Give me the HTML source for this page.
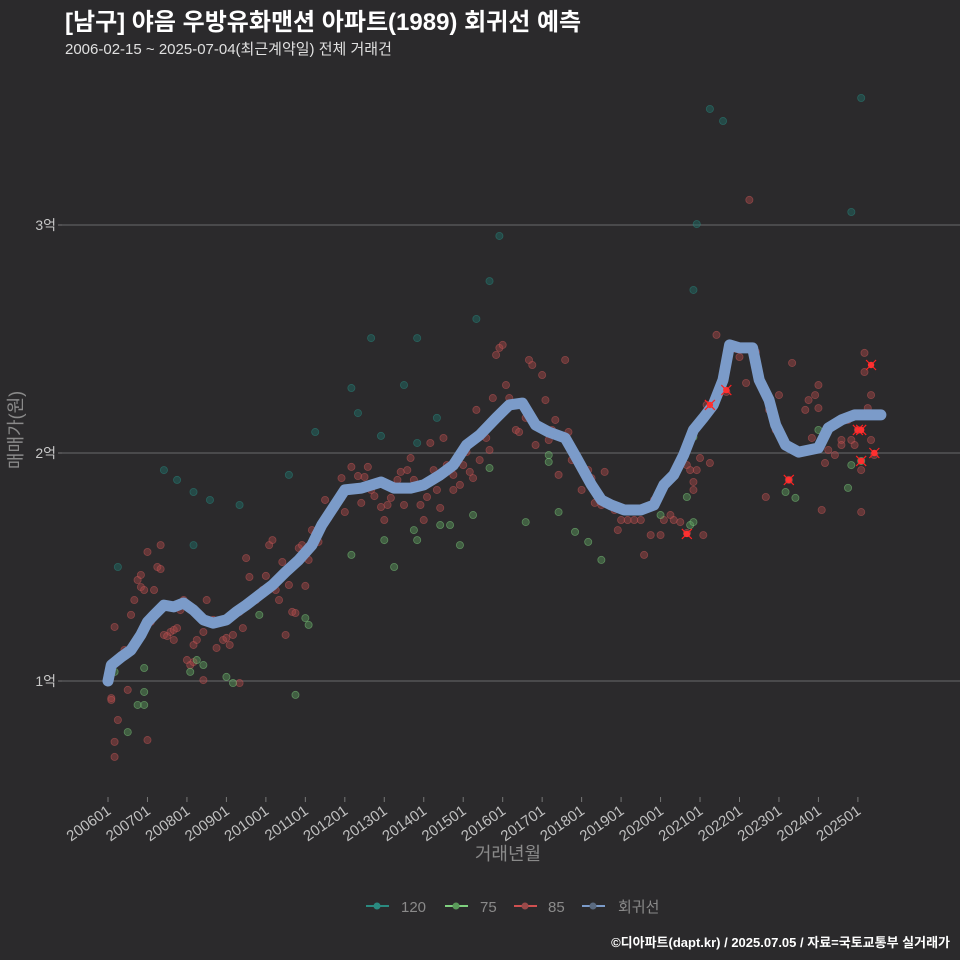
<!DOCTYPE html>
<html><head><meta charset="utf-8">
<style>
html,body{margin:0;padding:0;background:#2b2a2c;}
svg{display:block;font-family:"Liberation Sans","Noto Sans CJK KR",sans-serif;}
</style></head>
<body>
<svg id="chart" width="960" height="960" viewBox="0 0 960 960">
<rect width="960" height="960" fill="#2b2a2c"/>
<text x="65" y="30" font-size="24" font-weight="bold" fill="#ffffff">[남구] 야음 우방유화맨션 아파트(1989) 회귀선 예측</text>
<text x="65" y="54" font-size="15" fill="#e0e0e0">2006-02-15 ~ 2025-07-04(최근계약일) 전체 거래건</text>
<g id="grid"></g>
<g id="yticks"></g>
<g id="xticks"></g>
<g id="pts"></g>
<g id="reg"></g>
<g id="xm"></g>
<text transform="translate(22,430) rotate(-90)" text-anchor="middle" font-size="18" fill="#8a8a8a">매매가(원)</text>
<text x="508" y="860" text-anchor="middle" font-size="18" fill="#8a8a8a">거래년월</text>
<g font-size="15" fill="#8a8a8a">
  <g><line x1="366" y1="906" x2="389" y2="906" stroke="#2a8a80" stroke-width="2"/><circle cx="377" cy="906" r="3.5" fill="#2a8a80"/><text x="401" y="912">120</text></g>
  <g><line x1="445" y1="906" x2="468" y2="906" stroke="#7fd07f" stroke-width="2"/><circle cx="456" cy="906" r="3.5" fill="#5a9a5a"/><text x="480" y="912">75</text></g>
  <g><line x1="514" y1="906" x2="537" y2="906" stroke="#d05050" stroke-width="2"/><circle cx="525" cy="906" r="3.5" fill="#9a4a4a"/><text x="548" y="912">85</text></g>
  <g><line x1="582" y1="906" x2="605" y2="906" stroke="#7b9bc9" stroke-width="2"/><circle cx="593" cy="906" r="3.5" fill="#5a6a80"/><text x="618" y="912">회귀선</text></g>
</g>
<text x="950" y="947" text-anchor="end" font-size="13" font-weight="bold" fill="#ffffff">©디아파트(dapt.kr) / 2025.07.05 / 자료=국토교통부 실거래가</text>
</svg>
<script>
// months since 2006-01, price in 만원
const yTickValues = [10000, 20000, 30000];
const yTickLabels = ["1억", "2억", "3억"];
const xTickLabels = ["200601","200701","200801","200901","201001","201101","201201","201301","201401","201501","201601","201701","201801","201901","202001","202101","202201","202301","202401","202501"];
const pts120 = [[3,15000],[17,19250],[21,18820],[26,18290],[26,15960],[31,17940],[40,17720],[55,19040],[63,20920],[74,22850],[76,21750],[80,25040],[83,20750],[90,22980],[94,25040],[94,20440],[100,21540],[112,25880],[116,27540],[119,29520],[183,35090],[187,34560],[178,27150],[179,30040],[226,30570],[229,35570]];
const pts75 = [[2,10400],[11,10570],[11,9520],[11,8950],[9,8950],[6,7760],[25,10400],[27,10920],[29,10700],[36,10180],[38,9910],[46,12900],[60,12760],[61,12460],[57,9390],[74,15530],[84,16180],[87,15000],[93,16620],[94,16180],[101,16840],[104,16840],[107,15960],[111,17280],[116,19340],[127,16970],[134,19910],[134,19610],[137,17410],[142,16540],[146,16100],[150,15310],[168,17280],[176,18070],[177,16840],[178,16970],[178,20700],[206,18290],[209,18030],[216,21010],[225,18470],[226,19470],[229,19650]];
const pts85 = [[1,9250],[1,9170],[2,7330],[2,6670],[2,12370],[3,8290],[4,11140],[5,11360],[6,9610],[7,12900],[8,13550],[9,14430],[10,14650],[10,14120],[11,13990],[12,15660],[12,7410],[13,12590],[14,13990],[15,15000],[16,14910],[16,15960],[17,12020],[18,11970],[19,12150],[20,12240],[20,11800],[21,12320],[22,13110],[23,13550],[24,10920],[25,10700],[26,10830],[26,11580],[27,11800],[29,10040],[29,12150],[30,13550],[32,12680],[33,11450],[35,11800],[36,11890],[37,11580],[38,12020],[40,9910],[40,13030],[41,12320],[42,15390],[43,14560],[45,13550],[47,13990],[48,14610],[49,15960],[50,16180],[51,13990],[52,13550],[53,15220],[54,12020],[55,14210],[56,13030],[57,12980],[58,15830],[59,15960],[60,14170],[61,15310],[62,16620],[63,16450],[64,16100],[65,16840],[66,17940],[67,17150],[69,17590],[71,18900],[71,18030],[72,17410],[74,19390],[74,18380],[76,18990],[77,17810],[78,18950],[79,19390],[80,18380],[81,18110],[83,17630],[84,17060],[85,17720],[86,18030],[88,18820],[89,19170],[90,17720],[91,19250],[92,19780],[93,18820],[95,17720],[96,17060],[97,18070],[98,20440],[99,19250],[100,18380],[101,17590],[102,20660],[103,19470],[105,19040],[105,18380],[107,18600],[108,19470],[109,20040],[110,19170],[111,18900],[112,21890],[113,19690],[115,20660],[116,20130],[117,22410],[118,24300],[119,24610],[120,24740],[121,22980],[122,22410],[124,21010],[125,20920],[125,22110],[127,21540],[128,24080],[129,23860],[130,20350],[132,23420],[133,22320],[134,20570],[135,21010],[136,21450],[137,19040],[139,24080],[140,20920],[141,19690],[143,19690],[144,18380],[146,19250],[147,18900],[148,17810],[150,17720],[151,19170],[154,17500],[155,16620],[156,17060],[158,17060],[160,17060],[162,17060],[163,15530],[165,16400],[166,17940],[168,16400],[169,17060],[171,17280],[172,17060],[174,16970],[176,16490],[176,19470],[177,19250],[178,18730],[178,18380],[179,19250],[180,19780],[181,16400],[182,22110],[183,19560],[185,25180],[187,23200],[188,22680],[189,24740],[191,24560],[192,24210],[194,23070],[195,31100],[197,24430],[200,18070],[201,21890],[203,21010],[204,22540],[207,18820],[208,23950],[212,21890],[213,22320],[214,20660],[215,22540],[216,21970],[216,22980],[217,17500],[218,19560],[219,20130],[221,19910],[223,20570],[223,20350],[225,21450],[226,20570],[227,20350],[228,21010],[229,17410],[229,19250],[230,23550],[230,24390],[231,21970],[232,22540],[232,20570],[233,19910]];
const recentMarks = [[176,16450],[183,22110],[188,22760],[207,18820],[228,21010],[229,21010],[229,19650],[232,23860],[233,20000]];
const regMonths = [0,1,4,7,10,12,14,17,20,23,26,29,32,36,39,42,46,50,54,58,62,65,69,72,77,83,87,92,96,101,105,109,113,118,122,126,130,134,139,142,147,150,153,157,162,166,169,172,175,178,181,184,187,189,192,196,198,201,203,206,210,216,219,223,227,235];
const regValues = [10000,10700,11050,11360,12020,12590,12890,13330,13250,13420,13110,12680,12540,12680,13030,13330,13770,14210,14780,15310,15960,16840,17720,18380,18460,18730,18460,18460,18600,19040,19470,20350,20790,21540,22110,22190,21230,20920,20660,19910,18600,17940,17720,17500,17500,17720,18600,19040,19910,21010,21540,22110,23200,24740,24610,24610,23200,22320,21230,20350,20040,20220,21100,21450,21670,21670];

const NS = "http://www.w3.org/2000/svg";
function xs(m){ return 108 + m * 3.289; }
function ys(p){ return 681 - (p - 10000) / 43.86; }
function mk(tag, attrs, parent){ const e = document.createElementNS(NS, tag); for (const k in attrs) e.setAttribute(k, attrs[k]); parent.appendChild(e); return e; }

const grid = document.getElementById('grid'), yt = document.getElementById('yticks'), xt = document.getElementById('xticks');
yTickValues.forEach((v, i) => {
  const l = mk('line', {x1: 62, x2: 960, y1: ys(v), y2: ys(v), stroke: '#5e5e60', 'stroke-width': 1.2}, grid);
  
  
  const tk = mk('line', {x1: 58, x2: 62, y1: ys(v), y2: ys(v), stroke: '#777', 'stroke-width': 1}, yt);
  
  
  const t = mk('text', {x: 56, y: ys(v) + 5, 'text-anchor': 'end', 'font-size': 14, fill: '#c8c8c8'}, yt);
  t.textContent = yTickLabels[i];
  
  
});
xTickLabels.forEach((lab, i) => {
  const x = xs(i * 12);
  const tk = mk('line', {x1: x, x2: x, y1: 797, y2: 802, stroke: '#777', 'stroke-width': 1}, xt);
  
  
  const t = mk('text', {x: 0, y: 0, 'text-anchor': 'end', 'font-size': 15, fill: '#c0c0c0', transform: `translate(${x + 4},${813}) rotate(-35)`}, xt);
  t.textContent = lab;
  
  
});
const pg = document.getElementById('pts');
function drawPts(arr, fill, stroke, name){
  arr.forEach(d => {
    const c = mk('circle', {cx: xs(d[0]), cy: ys(d[1]), r: 3.6, fill: fill, stroke: stroke, 'stroke-width': 0.8, 'fill-opacity': 0.45, 'stroke-opacity': 0.5}, pg);
    
    
  });
}
drawPts(pts85, '#a84848', '#c85858', 'point-85');
drawPts(pts75, '#5e9e5e', '#7fd07f', 'point-75');
drawPts(pts120, '#1f6f68', '#2a8a80', 'point-120');
const rg = document.getElementById('reg');
const pth = mk('path', {d: regMonths.map((m, i) => (i ? 'L' : 'M') + xs(m).toFixed(1) + ',' + ys(regValues[i]).toFixed(1)).join(' '), fill: 'none', stroke: '#7b9bc9', 'stroke-width': 11, 'stroke-linecap': 'round', 'stroke-linejoin': 'round'}, rg);


const xg = document.getElementById('xm');
recentMarks.forEach(d => {
  const x = xs(d[0]), y = ys(d[1]);
  const p = mk('path', {d: `M${x-5},${y-5}L${x+5},${y+5}M${x-5},${y+5}L${x+5},${y-5}`, stroke: '#ff2020', 'stroke-width': 1.2}, xg);
  
  
  const c = mk('circle', {cx: x, cy: y, r: 3.2, fill: '#ff3030'}, xg);
  
  
});
</script>
</body></html>
